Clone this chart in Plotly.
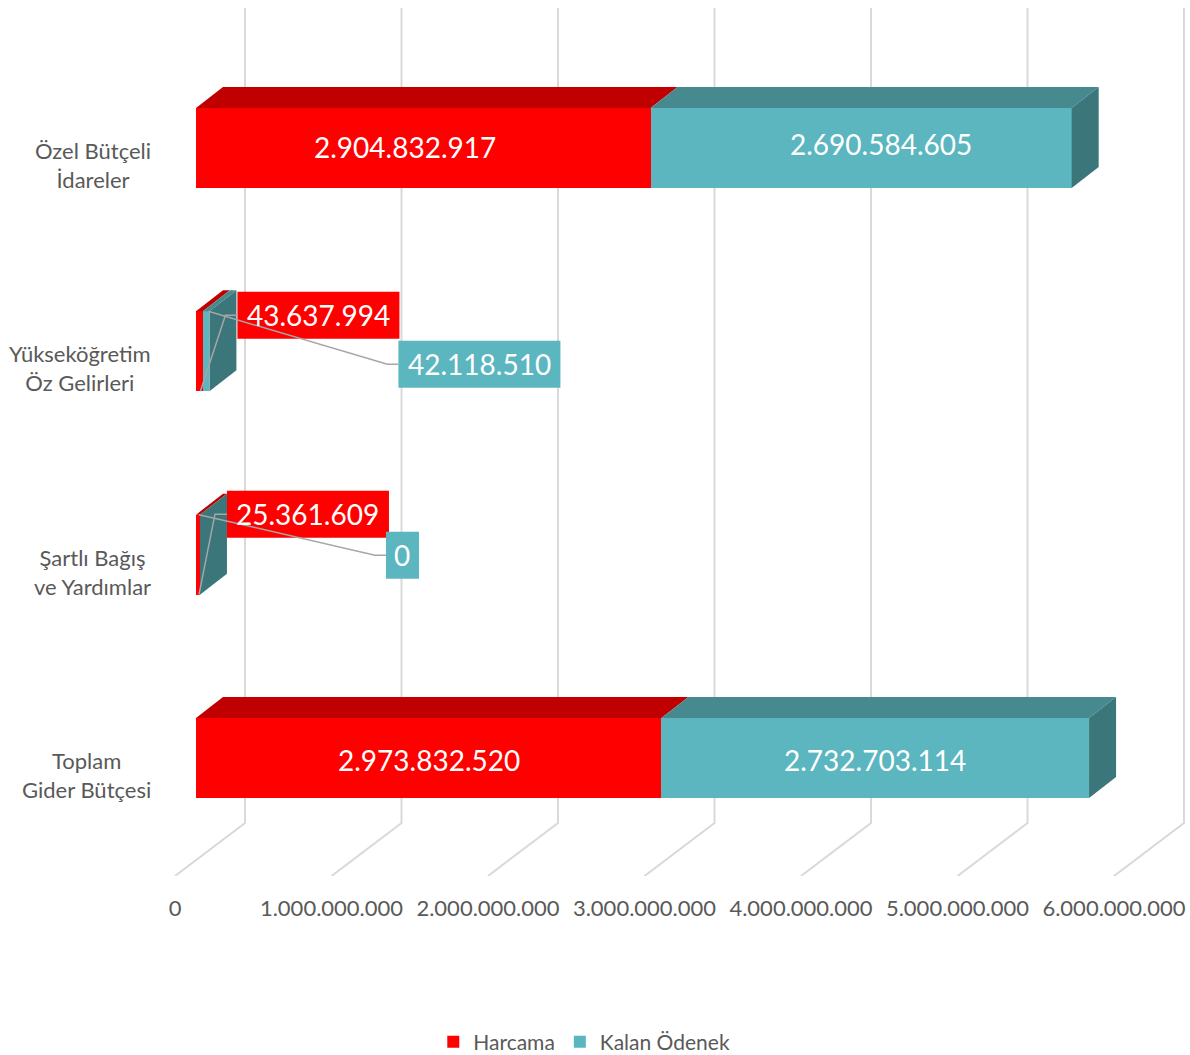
import plotly.graph_objects as go

# ---------------- data ----------------
categories = ["Özel Bütçeli<br>İdareler", "Yükseköğretim<br>Öz Gelirleri",
              "Şartlı Bağış<br>ve Yardımlar", "Toplam<br>Gider Bütçesi"]
harcama = [2904832917, 43637994, 25361609, 2973832520]
kalan = [2690584605, 42118510, 0, 2732703114]
tick_values = [0, 1e9, 2e9, 3e9, 4e9, 5e9, 6e9]
tick_labels = ["0", "1.000.000.000", "2.000.000.000", "3.000.000.000",
               "4.000.000.000", "5.000.000.000", "6.000.000.000"]
series_names = ["Harcama", "Kalan Ödenek"]

# ---------------- style ----------------
RED, RED_TOP = "#FF0000", "#C00000"
TEAL, TEAL_TOP, TEAL_SIDE = "#5BB6C0", "#468A90", "#3B767B"
GRID = "#D9D9D9"
TXT = "#595959"
LEADER = "#A6A6A6"
FONT = "Lato"

W, H = 1190, 1055
ML, MR, MT, MB = 160, 0, 0, 179
PW, PH = W - ML - MR, H - MT - MB
XPX = 156.5 / 1e9          # pixels per unit on x
X0PX = 36                  # pixel offset of x=0 from plot left
xmin = -X0PX / XPX
xmax = xmin + PW / XPX
CAT = 203.33               # pixels per category
y0 = -118 / CAT
y1 = y0 + PH / CAT
ypos = [3, 2, 1, 0]
BAR_PX = 80
BW = BAR_PX / CAT
DX, DY = 27, 21            # bar depth in pixels
FLOOR_FRONT, FLOOR_BACK_DX, FLOOR_BACK_DY = -21, 49, 53


def PX(v):
    return ML + (v - xmin) * XPX


def PY(y):
    return MT + (y1 - y) * CAT


def X(p):
    return xmin + (p - ML) / XPX


def Y(p):
    return y1 - (p - MT) / CAT


def path(pts, close=True):
    s = "M " + " L ".join(f"{X(px)},{Y(py)}" for px, py in pts)
    return s + (" Z" if close else "")


def fmt(v):
    return f"{int(v):,}".replace(",", ".")


fig = go.Figure()
fig.add_trace(go.Bar(y=ypos, x=harcama, orientation="h", width=BW,
                     marker=dict(color=RED, line=dict(width=0)), name=series_names[0]))
fig.add_trace(go.Bar(y=ypos, x=kalan, orientation="h", width=BW,
                     marker=dict(color=TEAL, line=dict(width=0)), name=series_names[1]))

shapes = []
# 3D gridlines (back wall + floor)
plot_bottom = MT + PH
for v in tick_values:
    p = PX(v)
    pts = [(p + FLOOR_FRONT, plot_bottom),
           (p + FLOOR_BACK_DX, plot_bottom - FLOOR_BACK_DY),
           (p + FLOOR_BACK_DX, 8)]
    shapes.append(dict(type="path", path=path(pts, close=False), xref="x", yref="y",
                       line=dict(color=GRID, width=2), layer="below"))

# top and side faces
for i, yc in enumerate(ypos):
    top = PY(yc) - BAR_PX / 2
    bot = PY(yc) + BAR_PX / 2
    segs = [(0, harcama[i], RED_TOP), (harcama[i], harcama[i] + kalan[i], TEAL_TOP)]
    for a, b, col in segs:
        pa, pb = PX(a), PX(b)
        pts = [(pa, top), (pb, top), (pb + DX, top - DY), (pa + DX, top - DY)]
        shapes.append(dict(type="path", path=path(pts), xref="x", yref="y",
                           fillcolor=col, line=dict(width=0)))
    pe = PX(harcama[i] + kalan[i])
    pts = [(pe, top), (pe + DX, top - DY), (pe + DX, bot - DY), (pe, bot)]
    shapes.append(dict(type="path", path=path(pts), xref="x", yref="y",
                       fillcolor=TEAL_SIDE, line=dict(width=0)))

annotations = []
# category labels
for yc, cat in zip(ypos, categories):
    annotations.append(dict(text=cat, xref="paper", x=0, xanchor="right", xshift=-7,
                            yref="y", y=yc, yanchor="middle", yshift=-17,
                            showarrow=False, align="center",
                            font=dict(family=FONT, size=22, color=TXT)))

# inside labels for large bars (pixel nudges)
inside = {0: [(-18, 1), (20, 4)], 3: [(0, -2), (0, -2)]}
for i, shifts in inside.items():
    mids = [harcama[i] / 2, harcama[i] + kalan[i] / 2]
    vals = [harcama[i], kalan[i]]
    for m, v, (sx, sy) in zip(mids, vals, shifts):
        annotations.append(dict(text=fmt(v), xref="x", x=m, yref="y", y=ypos[i],
                                xshift=sx, yshift=sy, showarrow=False,
                                font=dict(family=FONT, size=28, color="white")))

# callout labels for thin bars
callouts = {1: dict(rdx=28, rdy=-36, rw=162, tdx=-1, tdy=13, tw=162),
            2: dict(rdx=27, rdy=-40.5, rw=162, tdx=-3, tdy=0.5, tw=33)}
BOX_H = 47
for i, c in callouts.items():
    yc = PY(ypos[i])
    pe = PX(harcama[i] + kalan[i])
    top = yc - BAR_PX / 2
    bot = yc + BAR_PX / 2
    rl = pe + c["rdx"]
    rcy = yc + c["rdy"]
    tl = rl + c["rw"] + c["tdx"]
    tcy = yc + c["tdy"]
    # boxes
    shapes.append(dict(type="rect", xref="x", yref="y", x0=X(rl), x1=X(rl + c["rw"]),
                       y0=Y(rcy - BOX_H / 2), y1=Y(rcy + BOX_H / 2),
                       fillcolor=RED, line=dict(width=0)))
    shapes.append(dict(type="rect", xref="x", yref="y", x0=X(tl), x1=X(tl + c["tw"]),
                       y0=Y(tcy - BOX_H / 2), y1=Y(tcy + BOX_H / 2),
                       fillcolor=TEAL, line=dict(width=0)))
    # texts
    annotations.append(dict(text=fmt(harcama[i]), xref="x", x=X(rl + c["rw"] / 2),
                            yref="y", y=Y(rcy), yanchor="middle", showarrow=False,
                            font=dict(family=FONT, size=28, color="white")))
    annotations.append(dict(text=fmt(kalan[i]), xref="x", x=X(tl + c["tw"] / 2),
                            yref="y", y=Y(tcy), yanchor="middle", showarrow=False,
                            font=dict(family=FONT, size=28, color="white")))
    # leader lines
    red_mid = (PX(0) + PX(harcama[i])) / 2
    shapes.append(dict(type="path", xref="x", yref="y", line=dict(color=LEADER, width=1.5),
                       path=path([(red_mid + 1, bot), (rl - 12, rcy), (rl, rcy)], close=False)))
    shapes.append(dict(type="path", xref="x", yref="y", line=dict(color=LEADER, width=1.5),
                       path=path([(pe - 1, top), (tl - 11, tcy), (tl, tcy)], close=False)))

fig.update_layout(
    width=W, height=H, barmode="stack", bargap=0,
    margin=dict(l=ML, r=MR, t=MT, b=MB),
    plot_bgcolor="white", paper_bgcolor="white",
    font=dict(family=FONT, color=TXT),
    xaxis=dict(range=[xmin, xmax], showgrid=False, zeroline=False, showline=False,
               tickvals=[X(PX(v) + FLOOR_FRONT) for v in tick_values], ticktext=tick_labels,
               ticks="", ticklabelstandoff=17,
               tickfont=dict(family=FONT, size=22, color=TXT), fixedrange=True),
    yaxis=dict(range=[y0, y1], showgrid=False, zeroline=False, showline=False,
               showticklabels=False, fixedrange=True),
    shapes=shapes, annotations=annotations,
    showlegend=True,
    legend=dict(orientation="h", xref="container", x=0.491, xanchor="center",
                yref="container", y=1 - 1042 / H, yanchor="middle",
                font=dict(family=FONT, size=21, color=TXT), traceorder="normal"),
)

fig.write_html("out.html", config={"displayModeBar": False},
               post_script="document.body.style.margin='0';")
